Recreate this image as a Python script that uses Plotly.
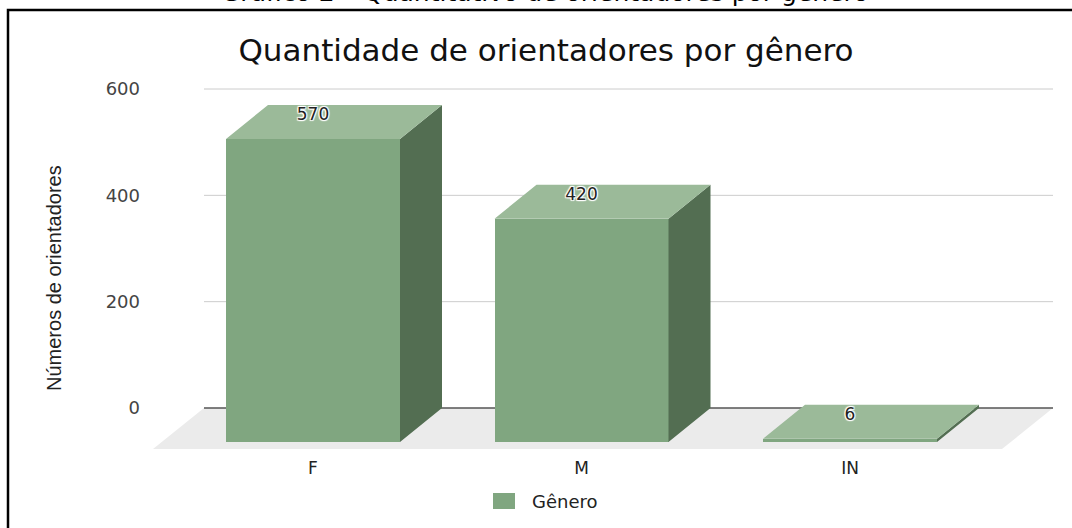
import plotly.graph_objects as go

# ---------------- data ----------------
categories = ["F", "M", "IN"]
values = [570, 420, 6]
y_tick_values = [0, 200, 400, 600]
chart_title = "Quantidade de orientadores por gênero"
caption_text = "Gráfico 2 – Quantitativo de orientadores por gênero"
y_axis_title = "Números de orientadores"
legend_label = "Gênero"

# ---------------- styling / geometry ----------------
W, H = 1072, 528
ML, MR, MT, MB = 146, 12, 78, 72
plot_w = W - ML - MR
plot_h = H - MT - MB
plot_bottom = H - MB

Y0_PX, YTOP_PX = 408, 89            # pixel rows of 0 and of top tick
sy = (Y0_PX - YTOP_PX) / max(y_tick_values)   # px per value unit
y_range = [-(plot_bottom - Y0_PX) / sy, (Y0_PX - MT) / sy]

X0_PX, XSTEP_PX = 313, 268.5         # first category centre, spacing
x_range = [(ML - X0_PX) / XSTEP_PX, (W - MR - X0_PX) / XSTEP_PX]

BAR_W = 174 / XSTEP_PX
BAR_DX = 42 / XSTEP_PX
BAR_DY = 34 / sy
FLOOR_DX = 51 / XSTEP_PX
FLOOR_DY = 41 / sy
PLANE_L = (204 - X0_PX) / XSTEP_PX
PLANE_R = (1053 - X0_PX) / XSTEP_PX
LABEL_DROP = 11 / sy

FRONT = "#80a680"
TOP = "#9bba99"
SIDE = "#536e52"
FLOOR = "#ebebeb"
GRID = "#cccccc"
ZERO = "#555555"

HFONT = "DejaVu Sans"


def px2paper_x(px):
    return (px - ML) / plot_w


def px2paper_y(py):
    return (plot_bottom - py) / plot_h


xs = list(range(len(categories)))

fig = go.Figure()

# front faces
fig.add_trace(go.Bar(
    x=xs, y=values, base=[-BAR_DY] * len(values), width=BAR_W,
    marker=dict(color=FRONT, line=dict(width=0)),
    hoverinfo="skip", showlegend=False,
))

# side and top faces
side_x, side_y, top_x, top_y = [], [], [], []
for xi, v in zip(xs, values):
    xl, xr = xi - BAR_W / 2, xi + BAR_W / 2
    top_x += [xl, xr, xr + BAR_DX, xl + BAR_DX, xl, None]
    top_y += [v - BAR_DY, v - BAR_DY, v, v, v - BAR_DY, None]
    side_x += [xr, xr + BAR_DX, xr + BAR_DX, xr, xr, None]
    side_y += [-BAR_DY, 0, v, v - BAR_DY, -BAR_DY, None]

fig.add_trace(go.Scatter(
    x=side_x, y=side_y, mode="lines", fill="toself", fillcolor=SIDE,
    line=dict(width=0, color=SIDE), hoverinfo="skip", showlegend=False,
))
fig.add_trace(go.Scatter(
    x=top_x, y=top_y, mode="lines", fill="toself", fillcolor=TOP,
    line=dict(width=0, color=TOP), hoverinfo="skip", showlegend=False,
))

# value labels on the top faces
fig.add_trace(go.Scatter(
    x=xs, y=[v - LABEL_DROP for v in values], mode="text",
    text=[str(v) for v in values], textposition="middle center",
    textfont=dict(family=HFONT, size=17, color="#222222",
                  shadow="1px 1px 1px #fff, -1px -1px 1px #fff, 1px -1px 1px #fff, -1px 1px 1px #fff, 0 0 2px #fff"),
    hoverinfo="skip", showlegend=False, cliponaxis=False,
))

shapes = []
# floor
shapes.append(dict(
    type="path", xref="x", yref="y", layer="below",
    path=(f"M {PLANE_L} 0 L {PLANE_R} 0 L {PLANE_R - FLOOR_DX} {-FLOOR_DY} "
          f"L {PLANE_L - FLOOR_DX} {-FLOOR_DY} Z"),
    fillcolor=FLOOR, line=dict(width=0),
))
# gridlines on back plane
for tv in y_tick_values:
    shapes.append(dict(
        type="line", xref="x", yref="y", layer="below",
        x0=PLANE_L, x1=PLANE_R, y0=tv, y1=tv,
        line=dict(color=ZERO if tv == 0 else GRID, width=1.6 if tv == 0 else 1),
    ))
# frame
shapes.append(dict(
    type="rect", xref="paper", yref="paper", layer="above",
    x0=px2paper_x(8), x1=px2paper_x(1095), y0=px2paper_y(560), y1=px2paper_y(10),
    line=dict(color="#000000", width=2.5), fillcolor="rgba(0,0,0,0)",
))
# legend swatch
shapes.append(dict(
    type="rect", xref="paper", yref="paper", layer="above",
    x0=px2paper_x(493), x1=px2paper_x(515), y0=px2paper_y(509), y1=px2paper_y(493),
    line=dict(width=0), fillcolor=FRONT,
))

annotations = [
    dict(text=legend_label, xref="paper", yref="paper",
         x=px2paper_x(530), y=px2paper_y(501), xanchor="left", yanchor="middle",
         showarrow=False, font=dict(family=HFONT, size=18, color="#222222")),
    dict(text=y_axis_title, xref="paper", yref="paper",
         x=px2paper_x(54), y=px2paper_y(278), xanchor="center", yanchor="middle",
         textangle=-90, showarrow=False,
         font=dict(family="Liberation Sans", size=20, color="#222222")),
    dict(text=caption_text, xref="paper", yref="paper",
         x=px2paper_x(545), y=px2paper_y(-8), xanchor="center", yanchor="middle",
         showarrow=False, font=dict(family=HFONT, size=25, color="#000000")),
]

fig.update_layout(
    width=W, height=H,
    margin=dict(l=ML, r=MR, t=MT, b=MB, pad=0),
    paper_bgcolor="#ffffff", plot_bgcolor="#ffffff",
    title=dict(text=chart_title, x=546 / W, xanchor="center",
               y=1 - 50 / H, yanchor="middle", xref="container", yref="container",
               font=dict(family=HFONT, size=31, color="#111111")),
    xaxis=dict(range=x_range, tickvals=xs, ticktext=categories,
               showgrid=False, zeroline=False, showline=False, ticks="",
               tickfont=dict(family=HFONT, size=17, color="#222222"),
               fixedrange=True),
    yaxis=dict(range=y_range, tickvals=y_tick_values,
               showgrid=False, zeroline=False, showline=False, ticks="",
               ticklabelstandoff=5,
               tickfont=dict(family=HFONT, size=18, color="#444444"),
               fixedrange=True),
    shapes=shapes,
    annotations=annotations,
    showlegend=False,
    bargap=0,
)

fig.write_html(
    "out.html",
    config={"displayModeBar": False},
    post_script="document.body.style.margin='0';document.body.style.overflow='hidden';",
)
